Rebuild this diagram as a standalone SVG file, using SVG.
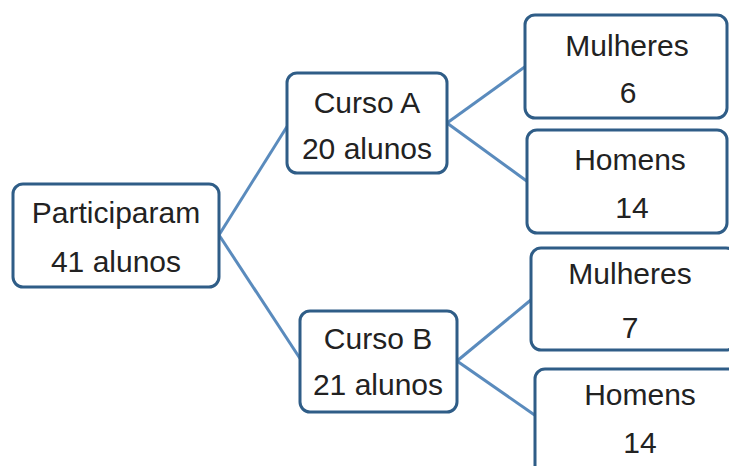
<svg xmlns="http://www.w3.org/2000/svg" width="729" height="466" viewBox="0 0 729 466">
<style>
.box{fill:#ffffff;stroke:#2f5d87;stroke-width:3}
.t{font-family:"Liberation Sans",Arial,sans-serif;font-size:30px;fill:#222222;text-anchor:middle}
.c{stroke:#5a8bbd;stroke-width:3;fill:none}
</style>
<rect width="729" height="466" fill="#ffffff"/>
<g id="connectors">
<line class="c" x1="219" y1="235" x2="288" y2="125"/>
<line class="c" x1="219" y1="235" x2="301" y2="360"/>
<line class="c" x1="447" y1="123" x2="526" y2="66"/>
<line class="c" x1="447" y1="123" x2="528" y2="182"/>
<line class="c" x1="457" y1="361" x2="532" y2="299"/>
<line class="c" x1="457" y1="361" x2="536" y2="416"/>
</g>
<g id="participaram">
<rect class="box" x="13" y="184" width="206" height="103" rx="10"/>
<text class="t" x="116" y="223">Participaram</text>
<text class="t" x="116" y="272">41 alunos</text>
</g>
<g id="cursoA">
<rect class="box" x="287" y="73" width="160" height="100" rx="10"/>
<text class="t" x="367" y="113">Curso A</text>
<text class="t" x="367" y="159">20 alunos</text>
</g>
<g id="cursoB">
<rect class="box" x="300" y="311" width="157" height="101" rx="10"/>
<text class="t" x="378" y="349">Curso B</text>
<text class="t" x="378" y="395">21 alunos</text>
</g>
<g id="mulheresA">
<rect class="box" x="525" y="15" width="202" height="103" rx="10"/>
<text class="t" x="627" y="56">Mulheres</text>
<text class="t" x="628" y="103">6</text>
</g>
<g id="homensA">
<rect class="box" x="527" y="130" width="200" height="103" rx="10"/>
<text class="t" x="630" y="170">Homens</text>
<text class="t" x="632" y="218">14</text>
</g>
<g id="mulheresB">
<rect class="box" x="531" y="248" width="205" height="102" rx="10"/>
<text class="t" x="630" y="284">Mulheres</text>
<text class="t" x="630" y="338">7</text>
</g>
<g id="homensB">
<rect class="box" x="535" y="369" width="205" height="110" rx="10"/>
<text class="t" x="640" y="405">Homens</text>
<text class="t" x="640" y="453">14</text>
</g>
</svg>
